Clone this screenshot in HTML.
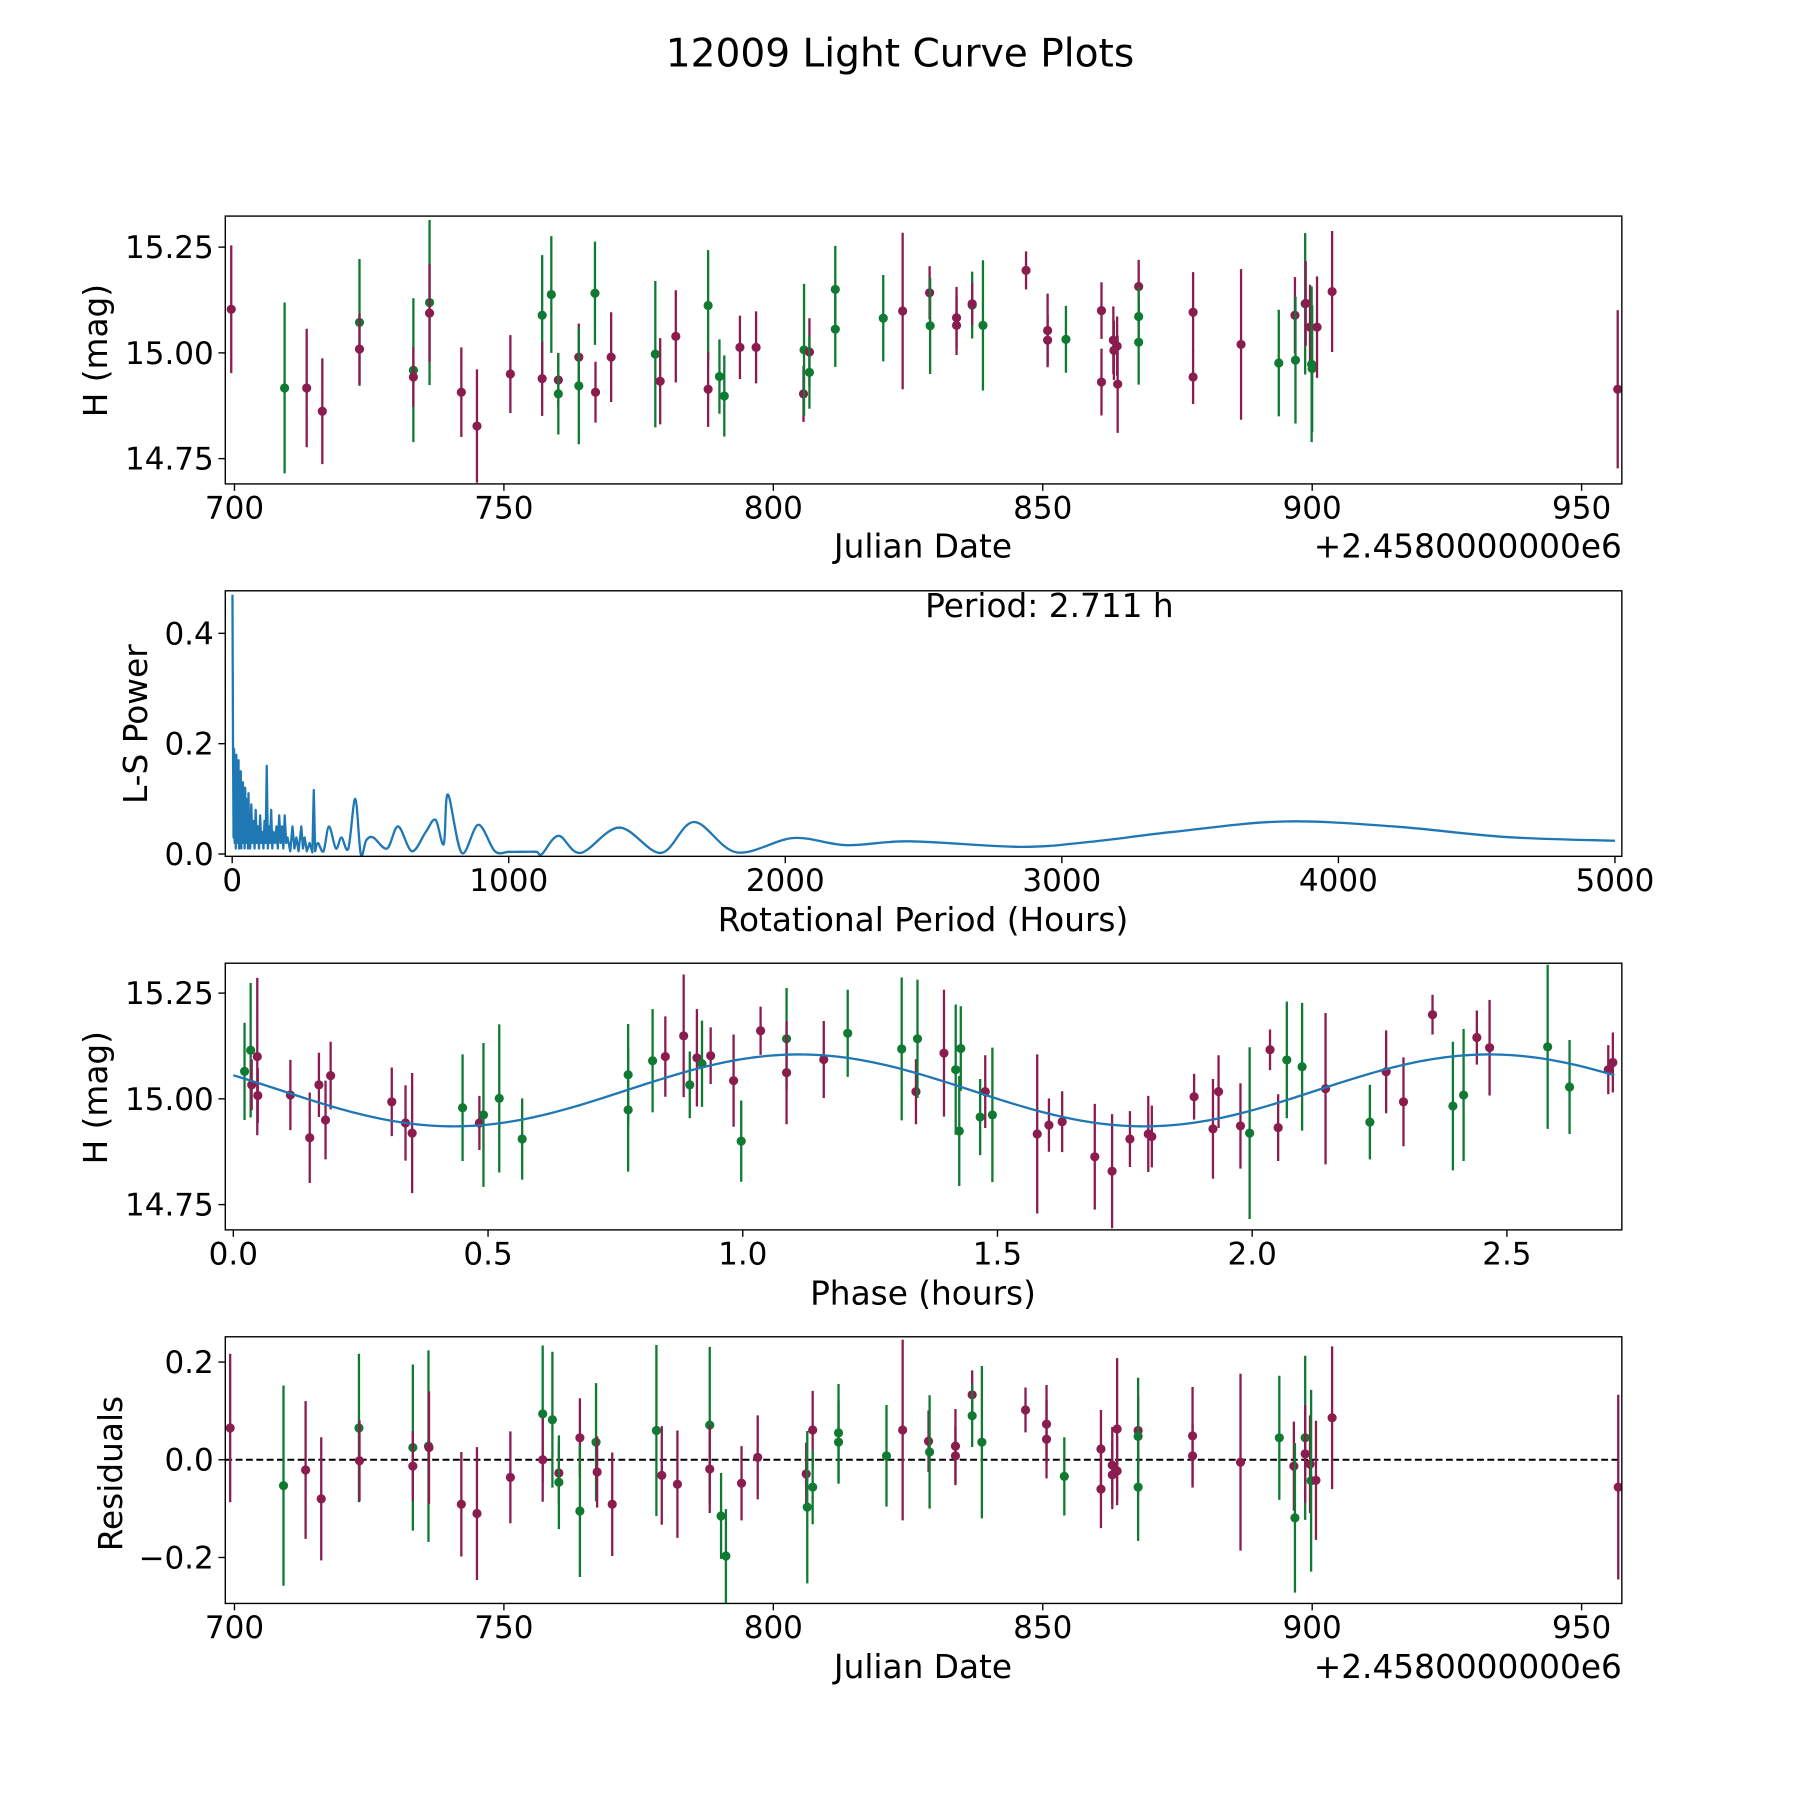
<!DOCTYPE html>
<html><head><meta charset="utf-8">
<style>
html,body{margin:0;padding:0;background:#fff;}
svg{display:block;}
text{font-family:"DejaVu Sans","Liberation Sans",sans-serif;fill:#000;}
</style></head>
<body>
<svg id="fig" width="1800" height="1800" viewBox="0 0 1566 1566" xmlns="http://www.w3.org/2000/svg">
<defs>
<clipPath id="c1"><rect x="196" y="188" width="1215" height="233"/></clipPath>
<clipPath id="c2"><rect x="196" y="514" width="1215" height="231"/></clipPath>
<clipPath id="c3"><rect x="196" y="838" width="1215" height="232"/></clipPath>
<clipPath id="c4"><rect x="196" y="1163" width="1215" height="232"/></clipPath>
</defs>
<text x="783" y="58" font-size="34" text-anchor="middle">12009 Light Curve Plots</text>
<g id="p1"></g>
<g id="p2"></g>
<g id="p3"></g>
<g id="p4"></g>
</svg>
<script>
// ---------- data: light curve ----------
const obsDate=[699.4,709.3,713.4,716.3,723.2,723.2,733.2,733.2,736.2,736.2,742.1,745.0,751.2,757.1,757.1,758.8,760.1,760.1,763.9,763.9,766.9,767.0,769.9,778.1,779.0,781.9,787.9,787.9,790.0,790.9,793.8,796.8,805.6,805.7,806.7,806.7,811.5,811.5,820.4,824.0,829.0,829.1,834.0,834.0,836.9,836.9,838.9,846.9,850.9,850.9,854.3,860.9,860.9,863.1,863.2,863.8,863.9,867.8,867.8,867.8,877.9,877.9,886.8,893.8,896.8,896.9,898.7,898.8,899.6,899.9,900.0,900.9,903.7,956.7];
const obsMag=[15.103,14.917,14.917,14.862,15.072,15.009,14.959,14.943,15.119,15.094,14.907,14.827,14.950,15.089,14.939,15.138,14.936,14.903,14.990,14.922,15.141,14.907,14.990,14.997,14.933,15.039,15.112,14.914,14.944,14.898,15.013,15.013,14.903,15.007,15.002,14.954,15.056,15.150,15.082,15.099,15.142,15.064,15.083,15.065,15.113,15.116,15.065,15.195,15.053,15.030,15.032,15.100,14.931,15.030,15.006,15.016,14.926,15.157,15.086,15.025,15.096,14.943,15.020,14.976,15.089,14.983,15.116,15.117,15.061,14.973,14.963,15.061,15.145,14.914];
const obsErr=[0.151,0.202,0.140,0.125,0.150,0.084,0.170,0.071,0.195,0.116,0.106,0.134,0.092,0.142,0.088,0.138,0.064,0.096,0.079,0.138,0.122,0.072,0.106,0.173,0.102,0.109,0.131,0.089,0.088,0.096,0.075,0.085,0.066,0.156,0.080,0.086,0.089,0.103,0.102,0.185,0.063,0.114,0.073,0.070,0.079,0.050,0.154,0.045,0.087,0.060,0.079,0.067,0.079,0.080,0.070,0.070,0.115,0.063,0.070,0.100,0.095,0.064,0.178,0.126,0.090,0.150,0.167,0.100,0.100,0.184,0.150,0.120,0.143,0.187];
const obsBand=['m','g','m','m','g','m','g','m','g','m','m','m','m','g','m','g','m','g','m','g','g','m','m','g','m','m','g','m','g','g','m','m','m','g','m','g','g','g','g','m','m','g','m','m','g','m','g','m','m','m','g','m','m','m','m','m','m','m','g','g','m','m','m','g','m','g','g','m','m','g','g','m','m','m'];
// ---------- data: periodogram ----------
const lsPeriod=[1,3,5,7,9,11,13,15,17,19,21,23,25,27,29,31,33,35,37,39,41,43,45,47,49,51,53,55,57,59,61,63,65,69,73,77,81,85,89,93,97,101,105,109,113,117,121,125,129,133,137,141,145,149,155,160,165,170,175,180,185,190,195,200,210,218,225,232,240,250,256,262,270,280,290,295,300,
310,330,350,375,395,420,445,465,485,510,560,600,650,700,735,765,780,830,890,950,1000,1050,1100,1120,1180,1260,1400,1550,1670,1824,2030,2220,2450,2850,3100,3400,3800,4200,4600,5000];
const lsPower=[0.47,0.20,0.03,0.19,0.02,0.17,0.01,0.18,0.03,0.14,0.02,0.17,0.01,0.12,0.03,0.15,0.01,0.11,0.04,0.13,0.02,0.09,0.01,0.12,0.03,0.10,0.02,0.08,0.01,0.11,0.02,0.07,0.01,0.09,0.02,0.06,0.01,0.08,0.02,0.05,0.01,0.07,0.02,0.04,0.01,0.06,0.02,0.16,0.01,0.05,0.02,0.08,0.01,0.04,0.02,0.05,0.01,0.07,0.02,0.05,0.01,0.07,0.02,0.03,0.005,0.05,0.01,0.03,0.005,0.05,0.01,0.03,0.005,0.02,0.003,0.116,0.005,
0.02,0.005,0.05,0.01,0.03,0.01,0.10,0.0,0.025,0.03,0.01,0.05,0.005,0.04,0.062,0.018,0.108,0.002,0.053,0.005,0.004,0.004,0.004,0.0,0.033,0.002,0.048,0.002,0.058,0.003,0.029,0.016,0.023,0.013,0.022,0.04,0.059,0.05,0.031,0.024];
const lsSmoothStart=77;
// ---------- data: phased ----------
const phX=[0.022,0.034,0.036,0.047,0.048,0.112,0.150,0.168,0.181,0.191,0.311,0.338,0.351,0.450,0.483,0.491,0.522,0.567,0.775,0.775,0.823,0.848,0.884,0.896,0.910,0.920,0.937,0.982,0.997,1.035,1.086,1.086,1.159,1.206,1.312,1.340,1.343,1.395,1.418,1.425,1.428,1.466,1.476,1.490,1.578,1.601,1.627,1.691,1.725,1.760,1.796,1.803,1.886,1.923,1.934,1.977,1.995,2.035,2.051,2.068,2.098,2.144,2.231,2.263,2.297,2.354,2.394,2.415,2.441,2.466,2.580,2.623,2.699,2.708];
const phMag=[15.065,15.115,15.033,15.100,15.008,15.009,14.908,15.033,14.950,15.055,14.993,14.943,14.919,14.979,14.943,14.962,15.001,14.905,15.057,14.974,15.090,15.100,15.149,15.033,15.097,15.083,15.102,15.043,14.900,15.161,15.142,15.062,15.093,15.155,15.118,15.017,15.142,15.108,15.069,14.924,15.119,14.957,15.017,14.962,14.917,14.938,14.946,14.863,14.829,14.905,14.917,14.911,15.005,14.929,15.017,14.936,14.919,15.116,14.932,15.092,15.076,15.024,14.945,15.064,14.993,15.199,14.983,15.009,15.145,15.121,15.123,15.028,15.069,15.086];
const phErr=[0.115,0.159,0.060,0.186,0.065,0.083,0.107,0.076,0.093,0.080,0.081,0.089,0.142,0.126,0.064,0.170,0.175,0.096,0.120,0.146,0.122,0.095,0.145,0.079,0.115,0.102,0.067,0.109,0.096,0.057,0.120,0.122,0.091,0.103,0.169,0.077,0.140,0.150,0.154,0.130,0.100,0.090,0.086,0.159,0.188,0.063,0.072,0.125,0.135,0.066,0.090,0.073,0.054,0.118,0.086,0.101,0.203,0.048,0.079,0.138,0.151,0.179,0.088,0.098,0.105,0.047,0.152,0.156,0.064,0.113,0.194,0.111,0.058,0.071];
const phBand=['g','g','m','m','m','m','m','m','m','m','m','m','m','g','m','g','g','g','g','g','g','m','m','g','m','g','m','m','g','m','g','m','m','g','g','m','g','m','g','g','g','g','m','g','m','m','m','m','m','m','m','m','m','m','m','m','g','m','m','g','g','m','g','m','m','m','g','g','m','m','g','g','m','m'];
const fitMean=15.02, fitAmp=0.085, fitPeak=1.11, fitPeriod=2.711;
// ---------- data: residuals ----------
const resDate=[699.2,709.1,713.2,716.1,723.1,723.2,733.1,733.1,736.0,736.1,742.1,745.0,751.2,757.2,757.2,759.0,760.2,760.2,764.1,764.1,767.1,767.3,770.1,778.3,779.3,782.2,788.2,788.2,790.3,791.2,794.1,797.1,806.1,806.3,807.3,807.3,812.1,812.1,821.0,824.0,828.8,829.0,833.8,833.8,836.9,836.9,838.7,846.8,850.7,850.7,854.0,860.8,860.8,862.9,862.9,863.8,863.8,867.7,867.7,867.7,877.8,877.8,886.7,893.9,896.6,896.8,898.7,898.7,899.6,899.8,900.7,903.7,956.8];
const resVal=[0.065,-0.053,-0.021,-0.080,0.065,-0.002,0.025,-0.013,0.028,0.025,-0.091,-0.110,-0.036,0.094,0.000,0.082,-0.027,-0.046,0.045,-0.105,0.036,-0.025,-0.091,0.060,-0.032,-0.050,0.071,-0.019,-0.115,-0.197,-0.048,0.005,-0.029,-0.097,0.061,-0.056,0.055,0.036,0.008,0.061,0.038,0.016,0.028,0.008,0.133,0.090,0.036,0.102,0.073,0.042,-0.034,0.022,-0.060,-0.011,-0.031,0.063,-0.023,0.060,0.048,-0.056,0.049,0.008,-0.005,0.045,-0.013,-0.119,0.045,0.012,-0.009,-0.043,-0.042,0.086,-0.056];
const resErr=[0.152,0.205,0.141,0.126,0.152,0.083,0.170,0.072,0.196,0.115,0.107,0.136,0.094,0.140,0.086,0.139,0.063,0.096,0.081,0.135,0.121,0.073,0.106,0.175,0.101,0.110,0.160,0.090,0.088,0.096,0.076,0.086,0.064,0.156,0.080,0.076,0.100,0.085,0.104,0.185,0.063,0.116,0.076,0.060,0.050,0.064,0.156,0.046,0.080,0.080,0.080,0.080,0.080,0.078,0.070,0.145,0.070,0.070,0.120,0.110,0.100,0.065,0.181,0.127,0.091,0.153,0.168,0.100,0.100,0.186,0.122,0.146,0.189];
const resBand=['m','g','m','m','g','m','g','m','g','m','m','m','m','g','m','g','m','g','m','g','g','m','m','g','m','m','g','m','g','g','m','m','m','g','m','g','g','g','g','m','m','g','m','m','m','g','g','m','m','m','g','m','m','m','m','m','m','m','g','g','m','m','m','g','m','g','g','m','m','g','m','m','m'];
// ---------- tick labels ----------
const jdTicks=[700,750,800,850,900,950];
const magTicks=[15.25,15.00,14.75];
const lsXTicks=[0,1000,2000,3000,4000,5000];
const lsYTicks=[0.0,0.2,0.4];
const phTicks=[0.0,0.5,1.0,1.5,2.0,2.5];
const resTicks=[0.2,0.0,-0.2];

const NS='http://www.w3.org/2000/svg';
const COL={m:'#8a1c50',g:'#117a32'};
function mk(tag,attrs,parent){const e=document.createElementNS(NS,tag);for(const k in attrs)e.setAttribute(k,attrs[k]);parent.appendChild(e);return e;}

const P1={L:196,T:188,W:1215,H:233};
const P2={L:196,T:514,W:1215,H:231};
const P3={L:196,T:838,W:1215,H:232};
const P4={L:196,T:1163,W:1215,H:232};
const xJD=d=>204+(d-700)*4.688;
const y1=h=>307-(h-15)*368;
const xLS=p=>202+p*0.2406;
const y2=v=>743-v*480;
const xPh=p=>203+p*443.2;
const y3=h=>956-(h-15)*368;
const y4=r=>1270-r*425;

function frame(g,P,name){
  const r=mk('rect',{x:P.L,y:P.T,width:P.W,height:P.H,fill:'none',stroke:'#000','stroke-width':1.2},g);
  
  
}
function xticks(g,P,vals,fx,fmt,name){
  vals.forEach(v=>{const x=fx(v);
    const l=mk('line',{x1:x,x2:x,y1:P.T+P.H,y2:P.T+P.H+6,stroke:'#000','stroke-width':1.2},g);
    
    
    const t=mk('text',{x:x,y:P.T+P.H+30,'font-size':27,'text-anchor':'middle'},g);
    
    
    t.textContent=fmt(v);});
}
function yticks(g,P,vals,fy,fmt,name){
  vals.forEach(v=>{const y=fy(v);
    const l=mk('line',{x1:P.L-6,x2:P.L,y1:y,y2:y,stroke:'#000','stroke-width':1.2},g);
    
    
    const t=mk('text',{x:P.L-10,y:y+9.5,'font-size':27,'text-anchor':'end'},g);
    
    
    t.textContent=fmt(v);});
}
function label(g,txt,x,y,rot,name,anchor){
  const t=mk('text',{x:x,y:y,'font-size':28.5,'text-anchor':anchor||'middle'},g);
  if(rot)t.setAttribute('transform','rotate(-90 '+x+' '+y+')');
  
  
  t.textContent=txt;
}
function errPoints(g,clip,xs,ys,es,bs,fx,fy,name){
  const cg=mk('g',{'clip-path':'url(#'+clip+')'},g);
  for(let i=0;i<xs.length;i++){
    const x=fx(xs[i]),c=COL[bs[i]];
    const l=mk('line',{x1:x,x2:x,y1:fy(ys[i]-es[i]),y2:fy(ys[i]+es[i]),stroke:c,'stroke-width':2},cg);
    
    
    const p=mk('circle',{cx:x,cy:fy(ys[i]),r:4,fill:c},cg);
    
    
  }
}
const f2=v=>v.toFixed(2), f0=v=>String(v), f1=v=>v.toFixed(1);

// panel 1
const g1=document.getElementById('p1');
errPoints(g1,'c1',obsDate,obsMag,obsErr,obsBand,xJD,y1,'observation');
frame(g1,P1,'light-curve');
xticks(g1,P1,jdTicks,xJD,f0,'julian-date');
yticks(g1,P1,magTicks,y1,f2,'magnitude');
label(g1,'Julian Date',803,485,false,'x-axis-title');
label(g1,'+2.4580000000e6',1411,485,false,'x-axis-offset','end');
label(g1,'H (mag)',93,305,true,'y-axis-title');

// panel 2
const g2=document.getElementById('p2');
const cg2=mk('g',{'clip-path':'url(#c2)'},g2);
let d='';
for(let i=0;i<lsSmoothStart;i++){d+=(i?'L':'M')+xLS(lsPeriod[i]).toFixed(2)+','+y2(lsPower[i]).toFixed(2);}
const pts=[];for(let i=lsSmoothStart-1;i<lsPeriod.length;i++)pts.push([xLS(lsPeriod[i]),y2(lsPower[i])]);
for(let i=0;i<pts.length-1;i++){
  const p0=pts[Math.max(0,i-1)],p1=pts[i],p2=pts[i+1],p3=pts[Math.min(pts.length-1,i+2)];
  const c1x=p1[0]+(p2[0]-p0[0])/6,c1y=p1[1]+(p2[1]-p0[1])/6,c2x=p2[0]-(p3[0]-p1[0])/6,c2y=p2[1]-(p3[1]-p1[1])/6;
  d+='C'+c1x.toFixed(2)+','+c1y.toFixed(2)+' '+c2x.toFixed(2)+','+c2y.toFixed(2)+' '+p2[0].toFixed(2)+','+p2[1].toFixed(2);
}
const ls=mk('path',{d:d,fill:'none',stroke:'#1f77b4','stroke-width':2,'stroke-linejoin':'round'},cg2);


frame(g2,P2,'periodogram');
xticks(g2,P2,lsXTicks,xLS,f0,'period');
yticks(g2,P2,lsYTicks,y2,f1,'power');
label(g2,'Rotational Period (Hours)',803,810,false,'x-axis-title');
label(g2,'L-S Power',128,630,true,'y-axis-title');
label(g2,'Period: 2.711 h',913,537,false,'period-annotation');

// panel 3
const g3=document.getElementById('p3');
errPoints(g3,'c3',phX,phMag,phErr,phBand,xPh,y3,'phased');
let fd='';
for(let k=0;k<=300;k++){const ph=k*fitPeriod/300;const h=fitMean+fitAmp*Math.cos(2*Math.PI*(ph-fitPeak)/(fitPeriod/2));
  fd+=(k?'L':'M')+xPh(ph).toFixed(2)+','+y3(h).toFixed(2);}
const cg3=mk('g',{'clip-path':'url(#c3)'},g3);
const fit=mk('path',{d:fd,fill:'none',stroke:'#1f77b4','stroke-width':2},cg3);


frame(g3,P3,'phase');
xticks(g3,P3,phTicks,xPh,f1,'phase');
yticks(g3,P3,magTicks,y3,f2,'magnitude');
label(g3,'Phase (hours)',803,1135,false,'x-axis-title');
label(g3,'H (mag)',93,955,true,'y-axis-title');

// panel 4
const g4=document.getElementById('p4');
const zl=mk('line',{x1:196,x2:1411,y1:y4(0),y2:y4(0),stroke:'#000','stroke-width':1.8,'stroke-dasharray':'6,3'},g4);


errPoints(g4,'c4',resDate,resVal,resErr,resBand,xJD,y4,'residual');
frame(g4,P4,'residuals');
xticks(g4,P4,jdTicks,xJD,f0,'julian-date');
yticks(g4,P4,resTicks,y4,v=>(v<0?'\u2212':'')+Math.abs(v).toFixed(1),'residual');
label(g4,'Julian Date',803,1460,false,'x-axis-title');
label(g4,'+2.4580000000e6',1411,1460,false,'x-axis-offset','end');
label(g4,'Residuals',106,1282,true,'y-axis-title');
</script>
</body></html>
